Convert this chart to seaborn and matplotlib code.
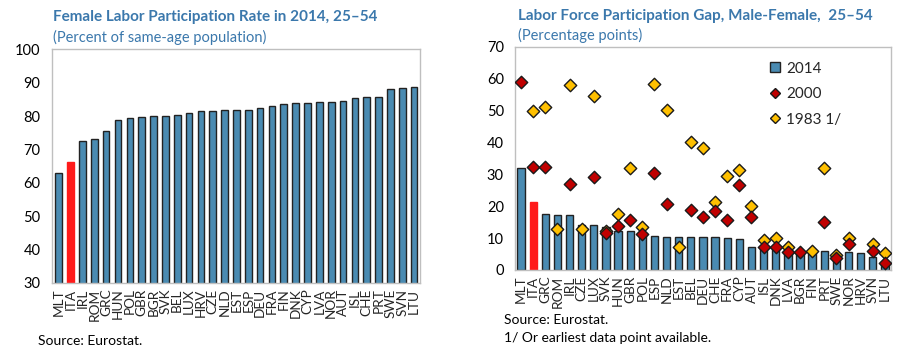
import numpy as np
import pandas as pd
import matplotlib
matplotlib.use("Agg")
import matplotlib.pyplot as plt
from matplotlib.lines import Line2D
import seaborn as sns

sns.set_style("white")
plt.rcParams['font.family'] = ['Lato', 'DejaVu Sans']

# ---- Left panel data ----
left_countries = ["MLT", "ITA", "IRL", "ROM", "GRC", "HUN", "POL", "GBR", "BGR", "SVK",
                  "BEL", "LUX", "HRV", "CZE", "NLD", "EST", "ESP", "DEU", "FRA", "FIN",
                  "DNK", "CYP", "LVA", "NOR", "AUT", "ISL", "CHE", "PRT", "SWE", "SVN", "LTU"]
left_values = [63.0, 66.3, 72.6, 73.2, 75.6, 78.8, 79.5, 79.8, 80.1, 80.1,
               80.4, 80.8, 81.5, 81.5, 81.8, 81.8, 81.8, 82.5, 83.1, 83.5,
               83.8, 83.8, 84.1, 84.1, 84.4, 85.4, 85.7, 85.7, 88.0, 88.3, 88.7]

# ---- Right panel data ----
right_countries = ["MLT", "ITA", "GRC", "ROM", "IRL", "CZE", "LUX", "SVK", "HUN", "GBR",
                   "POL", "ESP", "NLD", "EST", "BEL", "DEU", "CHE", "FRA", "CYP", "AUT",
                   "ISL", "DNK", "LVA", "BGR", "FIN", "PRT", "SWE", "NOR", "HRV", "SVN", "LTU"]
gap_2014 = [32.1, 21.3, 17.6, 17.2, 17.2, 14.1, 14.1, 13.6, 12.3, 12.3,
            11.3, 10.7, 10.2, 10.2, 10.2, 10.2, 10.2, 9.9, 9.6, 7.2,
            7.0, 6.8, 6.3, 5.8, 5.8, 5.8, 5.2, 5.5, 5.2, 4.1, 1.9]
gap_2000 = [58.9, 32.4, 32.2, np.nan, 27.1, np.nan, 29.2, 11.5, 13.9, 15.7,
            11.2, 30.4, 20.8, np.nan, 18.9, 16.6, 18.6, 15.6, 26.6, 16.7,
            7.1, 7.1, 5.7, 5.5, np.nan, 15.2, 3.7, 8.2, np.nan, 5.9, 2.1]
gap_1983 = [np.nan, 49.9, 51.2, 12.7, 58.1, 13.0, 54.4, 12.3, 17.6, 32.0,
            13.5, 58.2, 50.2, 7.1, 40.2, 38.3, 21.3, 29.6, 31.3, 20.0,
            9.5, 10.1, 7.2, np.nan, 5.9, 32.0, 4.7, 10.1, np.nan, 8.0, 5.2]

highlight = "ITA"
BLUE = "#4a8bb2"
RED_BAR = "#ff1a1a"
RED_DIA = "#c00000"
YEL_DIA = "#ffc000"
TITLE_C = "#3b78ac"
SPINE_C = "#bfbfbf"

fig = plt.figure(figsize=(9.06, 3.54), dpi=100)
axL = fig.add_axes([0.057, 0.2006, 0.4066, 0.660])
axR = fig.add_axes([0.5684, 0.2373, 0.415, 0.6308])

def style_axes(ax):
    for s in ax.spines.values():
        s.set_visible(True)
        s.set_color(SPINE_C)
        s.set_linewidth(1.0)
    ax.tick_params(axis='y', direction='in', length=4, color=SPINE_C, labelsize=10.5,
                   labelcolor='black', pad=8)
    ax.tick_params(axis='x', length=0, labelsize=9.8, labelrotation=90, pad=4)

# Left
dfL = pd.DataFrame({"country": left_countries, "value": left_values})
palL = {c: (RED_BAR if c == highlight else BLUE) for c in left_countries}
sns.barplot(data=dfL, x="country", y="value", hue="country", palette=palL,
            order=left_countries, hue_order=left_countries, legend=False,
            width=0.56, edgecolor="#222222", linewidth=1.0, saturation=1, ax=axL)
for p, c in zip(axL.patches, left_countries):
    if c == highlight:
        p.set_edgecolor(RED_BAR)
axL.set_ylim(30, 100)
axL.set_yticks(np.arange(30, 101, 10))
axL.set_xlim(-0.6, len(left_countries) - 0.55)
axL.set_xlabel("")
axL.set_ylabel("")
style_axes(axL)
axL.set_xticks(np.arange(len(left_countries)) + 0.5, minor=True)
axL.tick_params(axis='x', which='minor', direction='in', length=3, color=SPINE_C)

# Right
dfR = pd.DataFrame({"country": right_countries, "pos": np.arange(len(right_countries)),
                    "y2014": gap_2014, "y2000": gap_2000, "y1983": gap_1983})
palR = {c: (RED_BAR if c == highlight else BLUE) for c in right_countries}
sns.barplot(data=dfR, x="country", y="y2014", hue="country", palette=palR,
            order=right_countries, hue_order=right_countries, legend=False,
            width=0.6, edgecolor="#222222", linewidth=1.0, saturation=1, ax=axR)
for p, c in zip(axR.patches, right_countries):
    if c == highlight:
        p.set_edgecolor(RED_BAR)
sns.scatterplot(data=dfR, x="pos", y="y1983", marker="D", s=40, color=YEL_DIA,
                edgecolor="#1a1a1a", linewidth=1.0, zorder=4, ax=axR)
sns.scatterplot(data=dfR, x="pos", y="y2000", marker="D", s=40, color=RED_DIA,
                edgecolor="#1a1a1a", linewidth=1.0, zorder=5, ax=axR)
axR.set_ylim(0, 70)
axR.set_yticks(np.arange(0, 71, 10))
axR.set_xticks(np.arange(len(right_countries)))
axR.set_xticklabels(right_countries)
axR.set_xlim(-0.5, len(right_countries) - 0.55)
axR.set_xlabel("")
axR.set_ylabel("")
style_axes(axR)
axR.set_xticks(np.arange(len(right_countries)) + 0.5, minor=True)
axR.tick_params(axis='x', which='minor', direction='in', length=3, color=SPINE_C)

handles = [
    Line2D([], [], marker='s', linestyle='none', markersize=7.5, markerfacecolor=BLUE,
           markeredgecolor='#222222', markeredgewidth=1.0),
    Line2D([], [], marker='D', linestyle='none', markersize=5, markerfacecolor=RED_DIA,
           markeredgecolor='#1a1a1a', markeredgewidth=1.0),
    Line2D([], [], marker='D', linestyle='none', markersize=5, markerfacecolor=YEL_DIA,
           markeredgecolor='#1a1a1a', markeredgewidth=1.0),
]
axR.legend(handles, ["2014", "2000", "1983 1/"], loc='upper left',
           bbox_to_anchor=(0.66, 0.96), frameon=False, fontsize=11,
           handlelength=0.8, handletextpad=0.3, labelspacing=0.75, borderaxespad=0)

# Titles
H = 354.0
W = 906.0
def ft(xpx, ypx, s, **kw):
    fig.text(xpx / W, 1 - ypx / H, s, va='center', ha='left', **kw)

ft(53, 17, "Female Labor Participation Rate in 2014, 25\u201354", fontsize=11,
   fontweight='bold', color=TITLE_C)
ft(53, 37, "(Percent of same-age population)", fontsize=10.5, color=TITLE_C)
ft(518, 16, "Labor Force Participation Gap, Male-Female,  25\u201354", fontsize=11,
   fontweight='bold', color=TITLE_C)
ft(518, 35, "(Percentage points)", fontsize=10.5, color=TITLE_C)

ft(38, 341, "Source: Eurostat.", fontsize=10, color='black')
ft(504, 320, "Source: Eurostat.", fontsize=10, color='black')
ft(504, 338, "1/ Or earliest data point available.", fontsize=10, color='black')

fig.savefig("out.png", dpi=100)
